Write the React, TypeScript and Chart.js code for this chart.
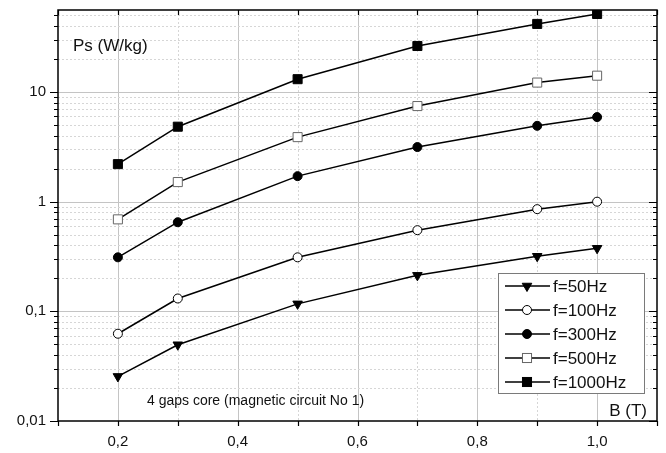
import React, { useEffect, useRef } from "react";
import { Chart, registerables } from "chart.js";

Chart.register(...registerables);

const bValues = [0.2, 0.3, 0.5, 0.7, 0.9, 1.0];
const p50 = [0.0255, 0.0496, 0.117, 0.213, 0.318, 0.376];
const p100 = [0.0625, 0.131, 0.311, 0.55, 0.855, 1.0];
const p300 = [0.311, 0.65, 1.71, 3.15, 4.92, 5.91];
const p500 = [0.69, 1.51, 3.88, 7.45, 12.2, 14.1];
const p1000 = [2.2, 4.83, 13.1, 26.3, 41.8, 51.5];
const seriesLabels = ["f=50Hz", "f=100Hz", "f=300Hz", "f=500Hz", "f=1000Hz"];
const yLabelValues = [0.01, 0.1, 1, 10];
const yLabelTexts = ["0,01", "0,1", "1", "10"];
const xLabelValues = [0.2, 0.4, 0.6, 0.8, 1.0];
const xLabelTexts = ["0,2", "0,4", "0,6", "0,8", "1,0"];

const FONT = "'Liberation Sans', Arial, sans-serif";

const decorPlugin = {
  id: "decor",
  beforeDatasetsDraw(chart: any) {
    const ctx = chart.ctx;
    const xs = chart.scales.x;
    const ys = chart.scales.y;
    const a = chart.chartArea;
    ctx.save();
    for (let i = 1; i <= 11; i++) {
      const v = i / 10;
      const px = Math.round(xs.getPixelForValue(v)) + 0.5;
      if (px <= a.left + 1 || px >= a.right - 1) continue;
      const major = i % 2 === 0;
      ctx.beginPath();
      ctx.setLineDash(major ? [] : [2, 2]);
      ctx.strokeStyle = major ? "#c4c4c4" : "#d6d6d6";
      ctx.lineWidth = 1;
      ctx.moveTo(px, a.top);
      ctx.lineTo(px, a.bottom);
      ctx.stroke();
    }
    for (let e = -2; e <= 1; e++) {
      for (let m = 1; m <= 9; m++) {
        const v = m * Math.pow(10, e);
        if (v <= ys.min * 1.0001 || v >= ys.max) continue;
        const py = Math.round(ys.getPixelForValue(v)) + 0.5;
        const major = m === 1;
        ctx.beginPath();
        ctx.setLineDash(major ? [] : [2, 2]);
        ctx.strokeStyle = major ? "#c4c4c4" : "#d6d6d6";
        ctx.lineWidth = 1;
        ctx.moveTo(a.left, py);
        ctx.lineTo(a.right, py);
        ctx.stroke();
      }
    }
    ctx.restore();
  },
  afterDraw(chart: any) {
    const ctx = chart.ctx;
    const xs = chart.scales.x;
    const ys = chart.scales.y;
    const a = chart.chartArea;
    ctx.save();
    ctx.setLineDash([]);
    ctx.strokeStyle = "#000";
    ctx.lineWidth = 1.5;
    ctx.strokeRect(a.left, a.top, a.right - a.left, a.bottom - a.top);
    ctx.lineWidth = 1.2;
    for (let i = 1; i <= 11; i++) {
      const v = i / 10;
      const px = Math.round(xs.getPixelForValue(v)) + 0.5;
      ctx.beginPath();
      ctx.moveTo(px, a.bottom);
      ctx.lineTo(px, a.bottom + 5);
      ctx.moveTo(px, a.top);
      ctx.lineTo(px, a.top + 5);
      ctx.stroke();
    }
    for (let e = -2; e <= 1; e++) {
      for (let m = 1; m <= 9; m++) {
        const v = m * Math.pow(10, e);
        if (v < ys.min * 0.9999 || v > ys.max) continue;
        const py = Math.round(ys.getPixelForValue(v)) + 0.5;
        const len = m === 1 ? 8 : 4;
        ctx.beginPath();
        ctx.moveTo(a.left - len, py);
        ctx.lineTo(a.left, py);
        ctx.moveTo(a.right, py);
        ctx.lineTo(a.right - len, py);
        ctx.stroke();
      }
    }
    // tick labels
    ctx.fillStyle = "#111";
    ctx.font = `15px ${FONT}`;
    ctx.textAlign = "center";
    ctx.textBaseline = "top";
    xLabelValues.forEach((v, i) => {
      ctx.fillText(xLabelTexts[i], xs.getPixelForValue(v), a.bottom + 13);
    });
    ctx.textAlign = "right";
    ctx.textBaseline = "middle";
    yLabelValues.forEach((v, i) => {
      ctx.fillText(yLabelTexts[i], a.left - 12, ys.getPixelForValue(v));
    });

    ctx.textBaseline = "alphabetic";
    ctx.textAlign = "left";
    ctx.font = `17px ${FONT}`;
    ctx.fillText("Ps (W/kg)", a.left + 15, a.top + 41);
    ctx.font = `14px ${FONT}`;
    ctx.fillText("4 gaps core (magnetic circuit No 1)", a.left + 89, a.bottom - 16);
    ctx.font = `17px ${FONT}`;
    ctx.textAlign = "right";
    ctx.fillText("B (T)", a.right - 10, a.bottom - 5);

    const lx = a.right - 159;
    const ly = a.bottom - 148;
    const lw = 146;
    const lh = 120;
    ctx.fillStyle = "#fff";
    ctx.fillRect(lx, ly, lw, lh);
    ctx.strokeStyle = "#7a7a7a";
    ctx.lineWidth = 1;
    ctx.strokeRect(lx + 0.5, ly + 0.5, lw, lh);
    chart.data.datasets.forEach((ds: any, i: number) => {
      const cy = ly + 13 + i * 24;
      ctx.beginPath();
      ctx.strokeStyle = "#000";
      ctx.lineWidth = 1.5;
      ctx.moveTo(lx + 7, cy);
      ctx.lineTo(lx + 52, cy);
      ctx.stroke();
      ctx.fillStyle = ds.pointBackgroundColor;
      ctx.strokeStyle = ds.pointBorderColor;
      ctx.lineWidth = 1;
      const style = ds.pointStyle;
      const r = ds.pointRadius;
      const cx = lx + 29;
      if (style === "rect") {
        const s = Math.SQRT1_2 * r;
        ctx.fillRect(cx - s, cy - s, 2 * s, 2 * s);
        ctx.strokeRect(cx - s, cy - s, 2 * s, 2 * s);
      } else if (style === "circle") {
        ctx.beginPath();
        ctx.arc(cx, cy, r, 0, Math.PI * 2);
        ctx.fill();
        ctx.stroke();
      } else {
        ctx.beginPath();
        ctx.moveTo(cx - r * 0.87, cy - r * 0.5);
        ctx.lineTo(cx + r * 0.87, cy - r * 0.5);
        ctx.lineTo(cx, cy + r);
        ctx.closePath();
        ctx.fill();
        ctx.stroke();
      }
      ctx.fillStyle = "#111";
      ctx.textAlign = "left";
      ctx.textBaseline = "middle";
      ctx.font = `17px ${FONT}`;
      ctx.fillText(ds.label, lx + 55, cy + 1);
    });
    ctx.restore();
  },
};

export default function App() {
  const ref = useRef<HTMLCanvasElement | null>(null);
  useEffect(() => {
    document.body.style.margin = "0";
    const canvas = ref.current;
    if (!canvas) return;
    const mk = (label: string, vals: number[], style: string, fill: string, border: string, radius: number, rotation = 0) => ({
      label,
      data: bValues.map((b, i) => ({ x: b, y: vals[i] })),
      borderColor: "#000",
      borderWidth: 1.5,
      pointStyle: style,
      pointRadius: radius,
      pointRotation: rotation,
      pointBackgroundColor: fill,
      pointBorderColor: border,
      pointBorderWidth: 1,
      tension: 0,
      fill: false,
    });
    const chart = new Chart(canvas, {
      type: "line",
      data: {
        datasets: [
          mk(seriesLabels[0], p50, "triangle", "#000", "#000", 5.5, 180),
          mk(seriesLabels[1], p100, "circle", "#fff", "#000", 4.5),
          mk(seriesLabels[2], p300, "circle", "#000", "#000", 4.5),
          mk(seriesLabels[3], p500, "rect", "#fff", "#666", 6.4),
          mk(seriesLabels[4], p1000, "rect", "#000", "#000", 6.4),
        ],
      },
      options: {
        responsive: false,
        animation: false,
        layout: { padding: { left: 58, right: 9, top: 10, bottom: 32 } },
        plugins: { legend: { display: false }, tooltip: { enabled: false }, title: { display: false } },
        scales: {
          x: { type: "linear", min: 0.1, max: 1.1, display: false },
          y: { type: "logarithmic", min: 0.01, max: 56, display: false },
        },
      },
      plugins: [decorPlugin],
    } as any);
    return () => chart.destroy();
  }, []);
  return (
    <div style={{ width: 666, height: 453, background: "#fff" }}>
      <canvas ref={ref} width={666} height={453} />
    </div>
  );
}
